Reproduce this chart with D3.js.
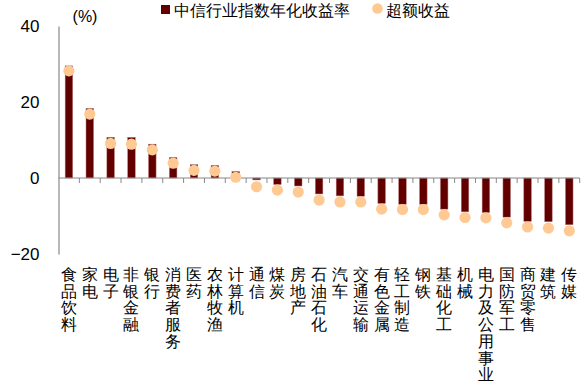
<!DOCTYPE html>
<html>
<head>
<meta charset="utf-8">
<script src="https://cdn.jsdelivr.net/npm/d3@7"></script>
<style>
  body { margin: 0; background: #fff; }
  svg { display: block; }
  text { font-family: "Liberation Sans", Arial, sans-serif; }
  .cjk { font-family: "Noto Sans CJK SC", sans-serif; }
</style>
</head>
<body>
<div class="chart"></div>
<script>
// categories, left to right
let categories = ["食品饮料", "家电", "电子", "非银金融", "银行", "消费者服务", "医药", "农林牧渔",
	"计算机", "通信", "煤炭", "房地产", "石油石化", "汽车", "交通运输", "有色金属", "轻工制造",
	"钢铁", "基础化工", "机械", "电力及公用事业", "国防军工", "商贸零售", "建筑", "传媒"];

// 中信行业指数年化收益率 (%)
let annualReturn = [29.5, 18.3, 10.7, 10.7, 8.9, 5.4, 3.5, 3.3, 1.7, -0.5, -1.7, -2.1, -4.2,
	-4.7, -4.8, -6.7, -6.9, -6.9, -8.2, -8.9, -9.1, -10.3, -11.4, -11.5, -12.3];

// 超额收益 (%)
let excessReturn = [28.2, 16.8, 9.1, 8.9, 7.4, 3.9, 2.0, 1.8, 0.2, -2.3, -3.2, -3.7, -5.8,
	-6.3, -6.3, -8.2, -8.3, -8.3, -9.7, -10.4, -10.5, -11.8, -12.9, -13.2, -13.9];

let yTicks = [-20, 0, 20, 40];
let legendLabels = ["中信行业指数年化收益率", "超额收益"];

let data = categories.map(function(c, i) {
	return {name: c, ret: annualReturn[i], excess: excessReturn[i]};
});

let width = 588, height = 387;
let plot = {left: 58.5, right: 579.7, top: 26, bottom: 254};

let svg = d3.select(".chart").append("svg")
	.attr("width", width)
	.attr("height", height);

let xScale = d3.scaleBand()
	.domain(categories)
	.range([plot.left, plot.right]);

let yScale = d3.scaleLinear()
	.domain([-20, 40])
	.range([plot.bottom, plot.top]);

// y axis
let yAxis = d3.axisLeft(yScale).tickValues(yTicks).tickSize(0).tickPadding(19);
let yAxisEl = svg.append("g")
	.attr("transform", "translate(" + plot.left + ",0)")
	.call(yAxis);
yAxisEl.select(".domain").attr("stroke", "#888").attr("stroke-width", 1.2);
yAxisEl.selectAll("text")
	.style("font-size", "17px")
	.attr("fill", "#000");

svg.append("text")
	.attr("x", 85)
	.attr("y", 22)
	.attr("text-anchor", "middle")
	.style("font-size", "16px")
	.text("(%)");

// bars
let barW = 7.5;
svg.append("g").selectAll("rect")
	.data(data)
	.join("rect")
	.attr("x", d => xScale(d.name) + xScale.bandwidth() / 2 - barW / 2)
	.attr("y", d => yScale(Math.max(0, d.ret)))
	.attr("width", barW)
	.attr("height", d => Math.abs(yScale(d.ret) - yScale(0)))
	.attr("fill", "#620000")
	.attr("stroke", "#b07070")
	.attr("stroke-width", 0.5);

// x axis at zero with ticks at band edges
let xAxisEl = svg.append("g");
xAxisEl.append("line")
	.attr("x1", plot.left).attr("x2", plot.right)
	.attr("y1", yScale(0)).attr("y2", yScale(0))
	.attr("stroke", "#888").attr("stroke-width", 1.2);
xAxisEl.selectAll("line.tick")
	.data(categories)
	.join("line")
	.attr("class", "tick")
	.attr("x1", d => xScale(d) + xScale.bandwidth())
	.attr("x2", d => xScale(d) + xScale.bandwidth())
	.attr("y1", yScale(0)).attr("y2", yScale(0) + 5)
	.attr("stroke", "#888");

// dots
svg.append("g").selectAll("circle")
	.data(data)
	.join("circle")
	.attr("cx", d => xScale(d.name) + xScale.bandwidth() / 2)
	.attr("cy", d => yScale(d.excess))
	.attr("r", 5.6)
	.attr("fill", "#ffc993");

// vertical category labels
let labelG = svg.append("g").attr("class", "cjk");
data.forEach(function(d) {
	let t = labelG.append("text")
		.attr("text-anchor", "middle")
		.style("font-size", "16px")
		.attr("fill", "#000");
	Array.from(d.name).forEach(function(ch, j) {
		t.append("tspan")
			.attr("x", xScale(d.name) + xScale.bandwidth() / 2)
			.attr("y", 280 + j * 16.7)
			.text(ch);
	});
});

// legend
let legend = svg.append("g").attr("class", "cjk");
legend.append("rect")
	.attr("x", 161).attr("y", 5)
	.attr("width", 9).attr("height", 9)
	.attr("fill", "#620000");
legend.append("text")
	.attr("x", 174).attr("y", 16)
	.style("font-size", "16px")
	.text(legendLabels[0]);
legend.append("circle")
	.attr("cx", 377.5).attr("cy", 8.5)
	.attr("r", 5.3)
	.attr("fill", "#ffc993");
legend.append("text")
	.attr("x", 386).attr("y", 16)
	.style("font-size", "16px")
	.text(legendLabels[1]);
</script>
</body>
</html>
